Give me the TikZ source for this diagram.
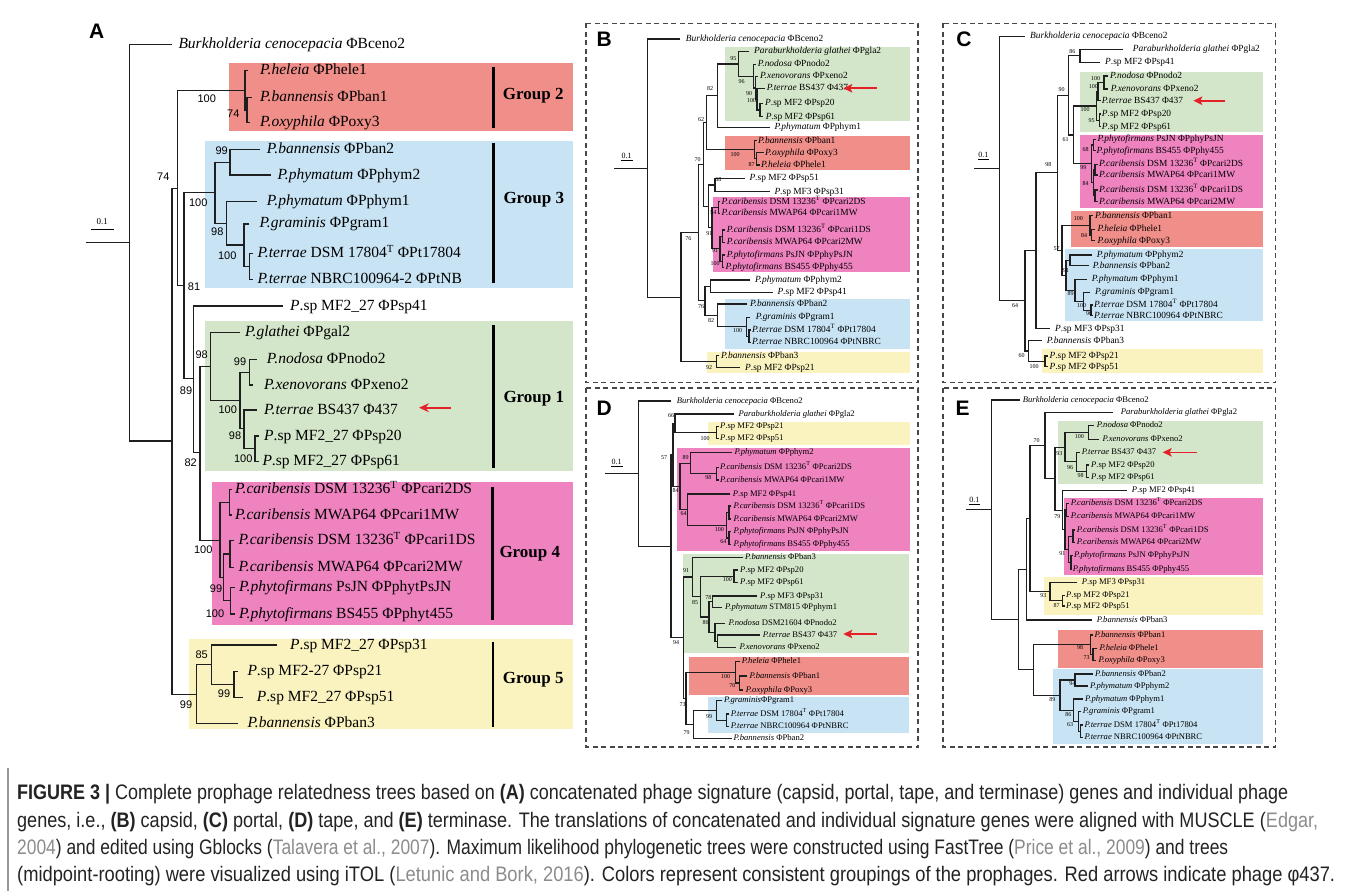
\documentclass[tikz,border=0pt]{standalone}
\usepackage{fontspec}
\setmainfont{Liberation Serif}
\setsansfont{Liberation Sans}
\usetikzlibrary{arrows.meta}
\definecolor{cRed}{RGB}{240,142,137}
\definecolor{cBlue}{RGB}{200,228,244}
\definecolor{cGreen}{RGB}{212,230,201}
\definecolor{cPink}{RGB}{238,131,192}
\definecolor{cYel}{RGB}{250,243,192}
\definecolor{arrRed}{RGB}{228,32,40}
\definecolor{cLink}{RGB}{140,140,140}
\definecolor{capText}{RGB}{35,35,35}
\newcommand\tcl[5]{\draw[br] (#3,#2) -- (#1,#2) -- (#1,#4) -- (#5,#4);}
\newcommand\tlb[4]{\node[lbl] (#1) at (#2,#3) {#4};}
\newcommand\tbs[4]{\node[bs] (#1) at (#2,#3) {#4};}
\newcommand\Pa{\textit{P}.sp}
\tikzset{
  br/.style={draw=black!88, line width=1.1pt},
  lblA/.style={anchor=west, inner sep=0pt, text height=11pt, text depth=3pt, font=\fontsize{15.5}{15.5}\selectfont},
  lblB/.style={anchor=west, inner sep=0pt, text height=6.5pt, text depth=1.9pt, font=\fontsize{9.4}{9.4}\selectfont},
  lblD/.style={anchor=west, inner sep=0pt, text height=6pt, text depth=1.8pt, font=\fontsize{8.6}{8.6}\selectfont},
  bsA/.style={inner sep=0pt, font=\sffamily\fontsize{11}{11}\selectfont},
  bsB/.style={inner sep=0pt, font=\fontsize{6}{6}\selectfont},
  lbl/.style={lblB}, bs/.style={bsB},
  gbar/.style={draw=black, line width=2.4pt},
  glab/.style={anchor=west, inner sep=0pt, font=\bfseries\fontsize{17}{17}\selectfont},
  plet/.style={inner sep=0pt, font=\sffamily\bfseries\fontsize{21}{21}\selectfont},
  dbox/.style={draw=black!72, line width=1.3pt, dash pattern=on 5pt off 3.5pt},
  redarr/.style={draw=arrRed, line width=1.6pt, -{Stealth[length=9pt,width=8.5pt,inset=2pt]}},
  sclab/.style={inner sep=0pt, font=\fontsize{8}{8}\selectfont},
  capl/.style={anchor=base west, inner sep=0pt, text=capText, font=\sffamily\fontsize{21}{21}\selectfont},
}
\begin{document}
\begin{tikzpicture}[x=1pt,y=-1pt]
\useasboundingbox (0,0) rectangle (1358,891);
\fill[white] (0,0) rectangle (1358,891);

%================ PANEL A =================
\fill[cRed] (229,63.3) rectangle (573,130.7);
\fill[cBlue] (205.3,141) rectangle (573,287.7);
\fill[cGreen] (205.3,321) rectangle (573,470.7);
\fill[cPink] (211.7,482.3) rectangle (573,625);
\fill[cYel] (188.7,639) rectangle (573,729.3);
\node[plet] (aLet) at (96.7,31.7) {A};
\node[sclab, font=\fontsize{9}{9}\selectfont] (aSc) at (102.3,222) {0.1};
\draw[line width=1pt] (90.7,229) -- (114,229);
\begin{scope}[lbl/.style={lblA}, bs/.style={bsA}]
\draw[br] (86,242.7) -- (129.3,242.7);
\tcl{129.3}{44.3}{171.7}{441}{172}
\tcl{172}{188.3}{177.3}{694.2}{196.7}
\tcl{177.3}{90.3}{245}{285.5}{184}
\tcl{245}{70.7}{248}{110}{247}
\tcl{247}{97.3}{252}{122.7}{250}
\tcl{184}{192.7}{215}{378.4}{193.3}
\tcl{215}{162.2}{230}{223.3}{226.7}
\tcl{230}{149.3}{260}{175}{270.7}
\tcl{226.7}{201.7}{256.7}{245}{244}
\tcl{244}{224}{249.3}{266.3}{249.3}
\tcl{249.3}{253.3}{252.5}{279.3}{252.5}
\tcl{193.3}{306}{282.7}{452.8}{200}
\tcl{200}{366.2}{210.7}{540.6}{220}
\tcl{210.7}{332.3}{240}{400.1}{240}
\tcl{240}{372.2}{249.3}{428.4}{244}
\tcl{249.3}{359.3}{256.7}{385}{253}
\tcl{244}{410}{256.7}{448.9}{255}
\tcl{255}{436}{258.5}{461.7}{258.5}
\tcl{220}{502.2}{229.3}{577.5}{223.3}
\tcl{229.3}{489.3}{232}{515}{232}
\tcl{223.3}{554}{230}{600.9}{230.5}
\tcl{230}{540.7}{234}{567.3}{234}
\tcl{230.5}{587.7}{235}{614}{235}
\tcl{196.7}{664.8}{211.7}{723.3}{238.3}
\tcl{211.7}{645}{277.3}{684.5}{234}
\tcl{234}{671.7}{238.3}{697.3}{242.7}
\tlb{aBurk}{178.3}{44.3}{\textit{Burkholderia cenocepacia} ΦBceno2}
\tlb{aHel}{260}{70.7}{\textit{P.heleia} ΦPhele1}
\tlb{aBan1}{260}{97.3}{\textit{P.bannensis} ΦPban1}
\tlb{aOxy}{260}{122.7}{\textit{P.oxyphila} ΦPoxy3}
\tlb{aBan2}{266.7}{149.3}{\textit{P.bannensis} ΦPban2}
\tlb{aPhym2}{277.3}{175}{\textit{P.phymatum} ΦPphym2}
\tlb{aPhym1}{266.7}{201.7}{\textit{P.phymatum} ΦPphym1}
\tlb{aGram}{259.3}{223}{\textit{P.graminis} ΦPgram1}
\tlb{aPt}{257.3}{253.3}{\textit{P.terrae} DSM 17804\textsuperscript{T} ΦPt17804}
\tlb{aPtNB}{257.3}{279.3}{\textit{P.terrae} NBRC100964-2 ΦPtNB}
\tlb{aPsp41}{290}{306}{\Pa{} MF2\_27 ΦPsp41}
\tlb{aGla}{245}{332.3}{\textit{P.glathei} ΦPgal2}
\tlb{aNod}{266.7}{359.3}{\textit{P.nodosa} ΦPnodo2}
\tlb{aXen}{264}{385}{\textit{P.xenovorans} ΦPxeno2}
\tlb{aTer}{264}{410}{\textit{P.terrae} BS437 Φ437}
\tlb{aPsp20}{264}{436}{\Pa{} MF2\_27 ΦPsp20}
\tlb{aPsp61}{262.3}{461.7}{\Pa{} MF2\_27 ΦPsp61}
\tlb{aC2DS}{235}{489.3}{\textit{P.caribensis} DSM 13236\textsuperscript{T} ΦPcari2DS}
\tlb{aC1MW}{235}{515}{\textit{P.caribensis} MWAP64 ΦPcari1MW}
\tlb{aC1DS}{238.3}{540.7}{\textit{P.caribensis} DSM 13236\textsuperscript{T} ΦPcari1DS}
\tlb{aC2MW}{238.3}{567.3}{\textit{P.caribensis} MWAP64 ΦPcari2MW}
\tlb{aPsJN}{239}{587.7}{\textit{P.phytofirmans} PsJN ΦPphytPsJN}
\tlb{aP455}{239}{614}{\textit{P.phytofirmans} BS455 ΦPphyt455}
\tlb{aPsp31}{290}{645}{\Pa{} MF2\_27 ΦPsp31}
\tlb{aPsp21}{247.3}{671.7}{\Pa{} MF2-27 ΦPsp21}
\tlb{aPsp51}{256.7}{697.3}{\Pa{} MF2\_27 ΦPsp51}
\tlb{aBan3}{247.3}{723.3}{\textit{P.bannensis} ΦPban3}
\tbs{ab1}{206.7}{98.3}{100}
\tbs{ab2}{233.3}{114}{74}
\tbs{ab3}{163.3}{176.7}{74}
\tbs{ab4}{221.7}{150.7}{99}
\tbs{ab5}{198.3}{202.7}{100}
\tbs{ab6}{217.3}{232}{98}
\tbs{ab7}{227.3}{256}{100}
\tbs{ab8}{194}{286.7}{81}
\tbs{ab9}{201.7}{355}{98}
\tbs{ab10}{186}{391}{89}
\tbs{ab11}{240}{361.7}{99}
\tbs{ab12}{227.7}{410}{100}
\tbs{ab13}{235}{436}{98}
\tbs{ab14}{243.3}{458.3}{100}
\tbs{ab15}{190.7}{462.7}{82}
\tbs{ab16}{203.3}{550}{100}
\tbs{ab17}{216}{588.3}{99}
\tbs{ab18}{215}{614}{100}
\tbs{ab19}{201.7}{654.3}{85}
\tbs{ab20}{224}{693.3}{99}
\tbs{ab21}{186}{705}{99}
\end{scope}
\draw[gbar] (493.3,66.7) -- (493.3,128.3);
\draw[gbar] (493.3,143.3) -- (493.3,283.3);
\draw[gbar] (493.3,325) -- (493.3,468.3);
\draw[gbar] (492.3,486.7) -- (492.3,620);
\draw[gbar] (492.7,641.7) -- (492.7,726.7);
\node[glab] (aG2) at (502.7,96) {Group 2};
\node[glab] (aG3) at (503.3,200) {Group 3};
\node[glab] (aG1) at (503.3,398.3) {Group 1};
\node[glab] (aG4) at (499.3,554) {Group 4};
\node[glab] (aG5) at (502.7,679.3) {Group 5};
\coordinate (aArS) at (451,407.7); \coordinate (aArE) at (419,407.7);
\draw[redarr, line width=1.8pt, -{Stealth[length=10pt,width=9pt,inset=3.5pt]}] (aArS) -- (aArE);

%================ PANEL B =================
\draw[dbox] (586,23.5) rectangle (918,382.5);
\fill[cGreen] (725,46.7) rectangle (910,120.7);
\fill[cRed] (725,136) rectangle (910,170);
\fill[cPink] (713.3,196.7) rectangle (910,271.7);
\fill[cBlue] (725,299.3) rectangle (910,349.3);
\fill[cYel] (706.7,351.7) rectangle (910,373.3);
\node[plet] (bLet) at (604.3,39.3) {B};
\node[sclab] (bSc) at (626.7,156) {0.1};
\draw[line width=0.8pt] (621,160.5) -- (632.5,160.5);
\draw[br] (614.3,168.1) -- (647.7,168.1);
\tcl{647.7}{39}{680}{297.2}{681}
\tcl{681}{232.7}{698.3}{361.7}{716.7}
\tcl{716.7}{355.7}{719}{367.7}{740}
\tcl{698.3}{164.6}{703.3}{300.8}{705}
\tcl{703.3}{122.8}{706.7}{206.4}{708.3}
\tcl{706.7}{95.7}{717.7}{149.8}{754.3}
\tcl{717.7}{64}{738.3}{127.3}{770}
\tcl{738.3}{51.7}{749}{76.2}{753.3}
\tcl{753.3}{64.3}{756}{88}{755.5}
\tcl{755.5}{76.7}{758}{99.3}{757}
\tcl{757}{88.7}{765}{110}{760}
\tcl{760}{103.3}{763}{116.7}{763}
\tcl{754.3}{140.7}{756.5}{158.9}{756.7}
\tcl{756.7}{152.7}{763.5}{165}{759.5}
\tcl{708.3}{185}{715}{227.9}{712}
\tcl{715}{178.3}{745}{191.7}{770}
\tcl{712}{207.5}{718.7}{248.7}{720}
\tcl{718.7}{201.7}{720.3}{213.3}{720.3}
\tcl{720}{236.2}{722.5}{261.2}{722.5}
\tcl{722.5}{230}{725}{242.3}{725}
\tcl{722.5}{255}{725}{267.3}{724}
\tcl{705}{286.2}{710.7}{315.4}{717.7}
\tcl{710.7}{280}{750}{292.3}{773.3}
\tcl{717.7}{304}{746.7}{326.7}{746.7}
\tcl{746.7}{317.3}{750}{336.2}{749}
\tcl{749}{330}{750.7}{342.3}{750.7}
\tlb{bBurk}{685.7}{39}{\textit{Burkholderia cenocepacia} ΦBceno2}
\tlb{bGla}{754}{51.7}{\textit{Paraburkholderia glathei} ΦPgla2}
\tlb{bNod}{757.7}{64.3}{\textit{P.nodosa} ΦPnodo2}
\tlb{bXen}{760}{76.7}{\textit{P.xenovorans} ΦPxeno2}
\tlb{bTer}{766.7}{88.7}{\textit{P.terrae} BS437 Φ437}
\tlb{bPsp20}{765}{103.3}{\Pa{} MF2 ΦPsp20}
\tlb{bPsp61}{765.7}{116.7}{\Pa{} MF2 ΦPsp61}
\tlb{bPhym1}{774.3}{127.3}{\textit{P.phymatum} ΦPphym1}
\tlb{bBan1}{758}{140.7}{\textit{P.bannensis} ΦPban1}
\tlb{bOxy}{765}{152.7}{\textit{P.oxyphila} ΦPoxy3}
\tlb{bHel}{761}{165}{\textit{P.heleia} ΦPhele1}
\tlb{bPsp51}{749.3}{178.3}{\Pa{} MF2 ΦPsp51}
\tlb{bPsp31}{774.3}{191.7}{\Pa{} MF3 ΦPsp31}
\tlb{bC2DS}{721.5}{201.7}{\textit{P.caribensis} DSM 13236\textsuperscript{T} ΦPcari2DS}
\tlb{bC1MW}{721.5}{213.3}{\textit{P.caribensis} MWAP64 ΦPcari1MW}
\tlb{bC1DS}{726.7}{230}{\textit{P.caribensis} DSM 13236\textsuperscript{T} ΦPcari1DS}
\tlb{bC2MW}{726.7}{242.3}{\textit{P.caribensis} MWAP64 ΦPcari2MW}
\tlb{bPsJN}{726.7}{255}{\textit{P.phytofirmans} PsJN ΦPphyPsJN}
\tlb{bP455}{725.5}{267.3}{\textit{P.phytofirmans} BS455 ΦPphy455}
\tlb{bPhym2}{755}{280}{\textit{P.phymatum} ΦPphym2}
\tlb{bPsp41}{777.3}{292.3}{\Pa{} MF2 ΦPsp41}
\tlb{bBan2}{750}{304}{\textit{P.bannensis} ΦPban2}
\tlb{bGram}{755.7}{317.3}{\textit{P.graminis} ΦPgram1}
\tlb{bPt}{752}{330}{\textit{P.terrae} DSM 17804\textsuperscript{T} ΦPt17804}
\tlb{bPtN}{752}{342.3}{\textit{P.terrae} NBRC100964 ΦPtNBRC}
\tlb{bBan3}{721}{355.7}{\textit{P.bannensis} ΦPban3}
\tlb{bPsp21}{745}{367.7}{\Pa{} MF2 ΦPsp21}
\tbs{bb1}{733.3}{58.3}{95}
\tbs{bb2}{741.7}{81.7}{96}
\tbs{bb3}{749}{93.3}{90}
\tbs{bb4}{751.7}{100.7}{100}
\tbs{bb5}{710}{88.3}{82}
\tbs{bb6}{701}{119.3}{62}
\tbs{bb7}{735}{155}{100}
\tbs{bb8}{751.7}{165}{87}
\tbs{bb9}{697.7}{159.3}{70}
\tbs{bb10}{718.3}{179.3}{68}
\tbs{bb11}{713.3}{212.7}{54}
\tbs{bb12}{688.3}{238.3}{76}
\tbs{bb13}{709.3}{233.3}{91}
\tbs{bb14}{715}{250.7}{91}
\tbs{bb15}{715}{263.3}{100}
\tbs{bb16}{701}{306.7}{76}
\tbs{bb17}{711}{320.7}{82}
\tbs{bb18}{737.7}{330.7}{100}
\tbs{bb19}{709}{367.3}{92}
\coordinate (bArS) at (876.7,88.3); \coordinate (bArE) at (843.3,88.3);
\draw[redarr] (bArS) -- (bArE);

%================ PANEL C =================
\draw[dbox] (943,23.5) rectangle (1275.5,382.5);
\fill[cGreen] (1080,72.3) rectangle (1263.3,132.3);
\fill[cPink] (1080,135) rectangle (1263.3,208.3);
\fill[cRed] (1071,211) rectangle (1263.3,246.7);
\fill[cBlue] (1065,249.3) rectangle (1263.3,321);
\fill[cYel] (1041.7,349.3) rectangle (1263.3,373.3);
\node[plet] (cLet) at (964,39.3) {C};
\node[sclab] (cSc) at (983.3,155) {0.1};
\draw[line width=0.8pt] (978,159.5) -- (989,159.5);
\draw[br] (974.3,168.8) -- (999.3,168.8);
\tcl{999.3}{36.7}{1025}{300.9}{1025}
\tcl{1025}{250.8}{1036}{351}{1028.3}
\tcl{1028.3}{340.7}{1041.7}{361.3}{1045}
\tcl{1045}{356}{1048}{366.7}{1048}
\tcl{1036}{172.9}{1057.3}{328.7}{1050}
\tcl{1057.3}{95.4}{1068.3}{250.3}{1062}
\tcl{1068.3}{55.8}{1080}{135}{1073.3}
\tcl{1080}{49.3}{1123.3}{62.3}{1100}
\tcl{1073.3}{106}{1096.7}{163.9}{1091.7}
\tcl{1096.7}{91.6}{1098}{120.35}{1099.5}
\tcl{1098}{82.5}{1104}{100.7}{1100.5}
\tcl{1104}{76}{1108}{89}{1108}
\tcl{1099.5}{114}{1100.8}{126.7}{1100.8}
\tcl{1091.7}{145}{1093.3}{182.8}{1093.3}
\tcl{1093.3}{139.3}{1096}{150.7}{1095.5}
\tcl{1093.3}{169.7}{1095}{195.9}{1095}
\tcl{1095}{164.3}{1097.5}{175}{1097.5}
\tcl{1095}{190}{1097.5}{201.7}{1097.5}
\tcl{1062}{225.3}{1090}{275.3}{1066}
\tcl{1090}{215.7}{1093}{235}{1091.7}
\tcl{1091.7}{229.3}{1095}{240.7}{1095}
\tcl{1066}{260.3}{1070}{290.3}{1075}
\tcl{1070}{255}{1092}{265.7}{1089}
\tcl{1075}{279.3}{1086.7}{301.3}{1083.3}
\tcl{1083.3}{292.3}{1090}{310.35}{1091}
\tcl{1091}{305}{1093}{315.7}{1093}
\tlb{cBurk}{1030}{36.7}{\textit{Burkholderia cenocepacia} ΦBceno2}
\tlb{cGla}{1132.7}{49.3}{\textit{Paraburkholderia glathei} ΦPgla2}
\tlb{cPsp41}{1105}{62.3}{\Pa{} MF2 ΦPsp41}
\tlb{cNod}{1110}{76}{\textit{P.nodosa} ΦPnodo2}
\tlb{cXen}{1110.7}{89}{\textit{P.xenovorans} ΦPxeno2}
\tlb{cTer}{1101.7}{100.7}{\textit{P.terrae} BS437 Φ437}
\tlb{cPsp20}{1101.7}{114}{\Pa{} MF2 ΦPsp20}
\tlb{cPsp61}{1101.7}{126.7}{\Pa{} MF2 ΦPsp61}
\tlb{cPsJN}{1097.3}{139.3}{\textit{P.phytofirmans} PsJN ΦPphyPsJN}
\tlb{cP455}{1096.5}{150.7}{\textit{P.phytofirmans} BS455 ΦPphy455}
\tlb{cC2DS}{1099}{164.3}{\textit{P.caribensis} DSM 13236\textsuperscript{T} ΦPcari2DS}
\tlb{cC1MW}{1099}{175}{\textit{P.caribensis} MWAP64 ΦPcari1MW}
\tlb{cC1DS}{1099}{190}{\textit{P.caribensis} DSM 13236\textsuperscript{T} ΦPcari1DS}
\tlb{cC2MW}{1099}{201.7}{\textit{P.caribensis} MWAP64 ΦPcari2MW}
\tlb{cBan1}{1095}{215.7}{\textit{P.bannensis} ΦPban1}
\tlb{cHel}{1097.3}{229.3}{\textit{P.heleia} ΦPhele1}
\tlb{cOxy}{1097.3}{240.7}{\textit{P.oxyphila} ΦPoxy3}
\tlb{cPhym2}{1096.7}{255}{\textit{P.phymatum} ΦPphym2}
\tlb{cBan2}{1092.7}{265.7}{\textit{P.bannensis} ΦPban2}
\tlb{cPhym1}{1091.7}{279.3}{\textit{P.phymatum} ΦPphym1}
\tlb{cGram}{1095}{292.3}{\textit{P.graminis} ΦPgram1}
\tlb{cPt}{1094}{305}{\textit{P.terrae} DSM 17804\textsuperscript{T} ΦPt17804}
\tlb{cPtN}{1094}{315.7}{\textit{P.terrae} NBRC100964 ΦPtNBRC}
\tlb{cPsp31}{1055}{328.7}{\Pa{} MF3 ΦPsp31}
\tlb{cBan3}{1046.7}{340.7}{\textit{P.bannensis} ΦPban3}
\tlb{cPsp21}{1049.3}{356}{\Pa{} MF2 ΦPsp21}
\tlb{cPsp51}{1049.3}{366.7}{\Pa{} MF2 ΦPsp51}
\tbs{cb1}{1072.3}{51.7}{86}
\tbs{cb2}{1061.7}{89.3}{90}
\tbs{cb3}{1095.7}{78.3}{100}
\tbs{cb4}{1093.3}{86.7}{100}
\tbs{cb5}{1085}{110}{100}
\tbs{cb6}{1091.7}{120.7}{95}
\tbs{cb7}{1065.7}{140}{61}
\tbs{cb8}{1085.7}{150}{68}
\tbs{cb9}{1083.3}{167.7}{99}
\tbs{cb10}{1085.7}{184}{84}
\tbs{cb11}{1048.3}{164.3}{98}
\tbs{cb12}{1078.3}{219}{100}
\tbs{cb13}{1084}{235.7}{84}
\tbs{cb14}{1056.7}{248.3}{57}
\tbs{cb15}{1066}{270.7}{91}
\tbs{cb16}{1070.7}{294}{89}
\tbs{cb17}{1081.7}{305.7}{100}
\tbs{cb18}{1089}{314}{96}
\tbs{cb19}{1015}{305.7}{64}
\tbs{cb20}{1021.7}{356}{60}
\tbs{cb21}{1034}{366.7}{100}
\coordinate (cArS) at (1225,100.7); \coordinate (cArE) at (1193.3,100.7);
\draw[redarr] (cArS) -- (cArE);

\begin{scope}[lbl/.style={lblD}]
%================ PANEL D =================
\draw[dbox] (586,388) rectangle (918,747);
\fill[cYel] (708.3,421.7) rectangle (910,445);
\fill[cPink] (676.7,448.3) rectangle (910,550.7);
\fill[cGreen] (682.7,554) rectangle (909.3,652.7);
\fill[cRed] (689.3,657.3) rectangle (909.3,695);
\fill[cBlue] (708.3,697.3) rectangle (909.3,733.3);
\node[plet] (dLet) at (604.3,408.3) {D};
\node[sclab] (dSc) at (616.7,461.5) {0.1};
\draw[line width=0.8pt] (611,466) -- (623,466);
\draw[br] (605,473.65) -- (638.3,473.65);
\tcl{638.3}{401}{671}{546.3}{671}
\tcl{671}{454.9}{673}{637.7}{683.3}
\tcl{673}{423.3}{675}{486.4}{680}
\tcl{675}{414}{734.3}{432.5}{716.7}
\tcl{716.7}{426.7}{718.5}{438.3}{718.5}
\tcl{680}{463.2}{690.7}{509.6}{687.7}
\tcl{690.7}{452.7}{731.7}{473.7}{716.7}
\tcl{716.7}{467.3}{718.5}{480}{718.5}
\tcl{687.7}{494}{730}{525.25}{726.7}
\tcl{726.7}{512.5}{729}{538}{729}
\tcl{729}{506}{731.3}{519}{731.3}
\tcl{729}{531.7}{731.3}{544.3}{731.3}
\tcl{683.3}{577}{692.7}{698.5}{686}
\tcl{692.7}{557.3}{743.3}{596.7}{700.7}
\tcl{700.7}{576.35}{734}{617}{709}
\tcl{734}{570}{737.5}{582.7}{737.5}
\tcl{709}{601.85}{712.7}{632.2}{715}
\tcl{712.7}{596}{757.3}{607.7}{721.7}
\tcl{715}{623.3}{725}{641.15}{717.3}
\tcl{717.3}{635}{760}{647.3}{735.7}
\tcl{686}{672.35}{735.7}{724.6}{693.3}
\tcl{735.7}{661.7}{740}{683}{739.3}
\tcl{739.3}{676}{747}{690}{743}
\tcl{693.3}{710.5}{716.7}{738.7}{731.7}
\tcl{716.7}{700.7}{722}{720.35}{726.7}
\tcl{726.7}{714}{729}{726.7}{729}
\tlb{dBurk}{676.7}{401}{\textit{Burkholderia cenocepacia} ΦBceno2}
\tlb{dGla}{738.3}{414}{\textit{Paraburkholderia glathei} ΦPgla2}
\tlb{dPsp21}{720}{426.7}{\Pa{} MF2 ΦPsp21}
\tlb{dPsp51}{720}{438.3}{\Pa{} MF2 ΦPsp51}
\tlb{dPhym2}{734.3}{452.7}{\textit{P.phymatum} ΦPphym2}
\tlb{dC2DS}{720}{467.3}{\textit{P.caribensis} DSM 13236\textsuperscript{T} ΦPcari2DS}
\tlb{dC1MW}{720}{480}{\textit{P.caribensis} MWAP64 ΦPcari1MW}
\tlb{dPsp41}{732.7}{494}{\Pa{} MF2 ΦPsp41}
\tlb{dC1DS}{733.3}{506}{\textit{P.caribensis} DSM 13236\textsuperscript{T} ΦPcari1DS}
\tlb{dC2MW}{733.3}{519}{\textit{P.caribensis} MWAP64 ΦPcari2MW}
\tlb{dPsJN}{733.3}{531.7}{\textit{P.phytofirmans} PsJN ΦPphyPsJN}
\tlb{dP455}{733.3}{544.3}{\textit{P.phytofirmans} BS455 ΦPphy455}
\tlb{dBan3}{745}{557.3}{\textit{P.bannensis} ΦPban3}
\tlb{dPsp20}{740}{570}{\Pa{} MF2 ΦPsp20}
\tlb{dPsp61}{740}{582.7}{\Pa{} MF2 ΦPsp61}
\tlb{dPsp31}{760}{596}{\Pa{} MF3 ΦPsp31}
\tlb{dPhym1}{725}{607.7}{\textit{P.phymatum} STM815 ΦPphym1}
\tlb{dNod}{728.3}{623.3}{\textit{P.nodosa} DSM21604 ΦPnodo2}
\tlb{dTer}{762.7}{635}{\textit{P.terrae} BS437 Φ437}
\tlb{dXen}{739.3}{647.3}{\textit{P.xenovorans} ΦPxeno2}
\tlb{dHel}{741.7}{661.7}{\textit{P.heleia} ΦPhele1}
\tlb{dBan1}{749.3}{676}{\textit{P.bannensis} ΦPban1}
\tlb{dOxy}{745.7}{690}{\textit{P.oxyphila} ΦPoxy3}
\tlb{dGram}{724}{700.7}{\textit{P.graminis}ΦPgram1}
\tlb{dPt}{730.7}{714}{\textit{P.terrae} DSM 17804\textsuperscript{T} ΦPt17804}
\tlb{dPtN}{730.7}{726.7}{\textit{P.terrae} NBRC100964 ΦPtNBRC}
\tlb{dBan2}{733.3}{738.7}{\textit{P.bannensis} ΦPban2}
\tbs{db1}{671}{416}{66}
\tbs{db2}{705}{438.3}{100}
\tbs{db3}{664}{457.7}{57}
\tbs{db4}{685.7}{457.7}{89}
\tbs{db5}{708.3}{477.3}{98}
\tbs{db6}{675.7}{490.7}{84}
\tbs{db7}{683.7}{513.3}{64}
\tbs{db8}{719.3}{529.3}{100}
\tbs{db9}{723.3}{541.7}{64}
\tbs{db10}{686}{570.7}{91}
\tbs{db11}{727.3}{580}{100}
\tbs{db12}{695}{602.7}{85}
\tbs{db13}{708.3}{597.3}{78}
\tbs{db14}{705.7}{622.7}{86}
\tbs{db15}{676}{642.7}{94}
\tbs{db16}{725.7}{676.7}{100}
\tbs{db17}{732.3}{686}{70}
\tbs{db18}{682.7}{705}{73}
\tbs{db19}{709}{716.7}{99}
\tbs{db20}{686.7}{732.7}{79}
\coordinate (dArS) at (876.7,634); \coordinate (dArE) at (843.3,634);
\draw[redarr] (dArS) -- (dArE);

%================ PANEL E =================
\draw[dbox] (943,388) rectangle (1275.5,747);
\fill[cGreen] (1058.3,420.7) rectangle (1263.3,484);
\fill[cPink] (1064,498.3) rectangle (1263.3,575);
\fill[cYel] (1044,577.3) rectangle (1263.3,615);
\fill[cRed] (1058.3,630) rectangle (1263.3,668.3);
\fill[cBlue] (1053.3,669.3) rectangle (1263.3,744);
\node[plet] (eLet) at (962.7,408.3) {E};
\node[sclab] (eSc) at (974.3,499.5) {0.1};
\draw[line width=0.8pt] (969,504) -- (980,504);
\draw[br] (966,509.8) -- (991.7,509.8);
\tcl{991.7}{400}{1020}{619.6}{1018.3}
\tcl{1018.3}{569.3}{1026.7}{669.9}{1033.3}
\tcl{1026.7}{518.6}{1030}{620}{1091.7}
\tcl{1030}{445.65}{1045}{591.6}{1050}
\tcl{1045}{412.7}{1113.3}{478.6}{1055}
\tcl{1055}{447.1}{1065}{510.15}{1062.7}
\tcl{1065}{432.5}{1088.3}{461.7}{1076.7}
\tcl{1088.3}{425.7}{1094}{439.3}{1099}
\tcl{1076.7}{452.3}{1080}{471.15}{1086.7}
\tcl{1086.7}{465}{1089}{477.3}{1089}
\tcl{1062.7}{490.7}{1126.7}{529.6}{1065}
\tcl{1065}{510}{1066.7}{549.25}{1068.3}
\tcl{1066.7}{503.3}{1069}{516.7}{1069}
\tcl{1068.3}{536.15}{1073}{562.35}{1071}
\tcl{1073}{530}{1075}{542.3}{1075}
\tcl{1071}{555.7}{1072.8}{569}{1071.8}
\tcl{1050}{582.3}{1077.3}{600.85}{1062.7}
\tcl{1062.7}{595.7}{1064.5}{606}{1064.5}
\tcl{1033.3}{644.75}{1090.7}{695.1}{1060}
\tcl{1090.7}{635}{1092.5}{654.5}{1093}
\tcl{1093}{648.3}{1097}{660.7}{1096}
\tcl{1060}{680}{1075}{710.2}{1073.3}
\tcl{1075}{674}{1093.3}{686}{1088.3}
\tcl{1073.3}{699}{1083.3}{721.4}{1078.3}
\tcl{1078.3}{711.7}{1081}{731.15}{1080.7}
\tcl{1080.7}{725}{1082.5}{737.3}{1082.5}
\tlb{eBurk}{1022.7}{400}{\textit{Burkholderia cenocepacia} ΦBceno2}
\tlb{eGla}{1120.7}{412.7}{\textit{Paraburkholderia glathei} ΦPgla2}
\tlb{eNod}{1096.7}{425.7}{\textit{P.nodosa} ΦPnodo2}
\tlb{eXen}{1102.3}{439.3}{\textit{P.xenovorans} ΦPxeno2}
\tlb{eTer}{1081.7}{452.3}{\textit{P.terrae} BS437 Φ437}
\tlb{ePsp20}{1091}{465}{\Pa{} MF2 ΦPsp20}
\tlb{ePsp61}{1091}{477.3}{\Pa{} MF2 ΦPsp61}
\tlb{ePsp41}{1131.7}{490.7}{\Pa{} MF2 ΦPsp41}
\tlb{eC2DS}{1070.7}{503.3}{\textit{P.caribensis} DSM 13236\textsuperscript{T} ΦPcari2DS}
\tlb{eC1MW}{1070.7}{516.7}{\textit{P.caribensis} MWAP64 ΦPcari1MW}
\tlb{eC1DS}{1076.7}{530}{\textit{P.caribensis} DSM 13236\textsuperscript{T} ΦPcari1DS}
\tlb{eC2MW}{1076.7}{542.3}{\textit{P.caribensis} MWAP64 ΦPcari2MW}
\tlb{ePsJN}{1074}{555.7}{\textit{P.phytofirmans} PsJN ΦPphyPsJN}
\tlb{eP455}{1072.7}{569}{\textit{P.phytofirmans} BS455 ΦPphy455}
\tlb{ePsp31}{1081.7}{582.3}{\Pa{} MF3 ΦPsp31}
\tlb{ePsp21}{1066}{595.7}{\Pa{} MF2 ΦPsp21}
\tlb{ePsp51}{1066}{606}{\Pa{} MF2 ΦPsp51}
\tlb{eBan3}{1096.7}{620}{\textit{P.bannensis} ΦPban3}
\tlb{eBan1}{1094.5}{635}{\textit{P.bannensis} ΦPban1}
\tlb{eHel}{1099.3}{648.3}{\textit{P.heleia} ΦPhele1}
\tlb{eOxy}{1098.3}{660.7}{\textit{P.oxyphila} ΦPoxy3}
\tlb{eBan2}{1095}{674}{\textit{P.bannensis} ΦPban2}
\tlb{ePhym2}{1090}{686}{\textit{P.phymatum} ΦPphym2}
\tlb{ePhym1}{1085}{699}{\textit{P.phymatum} ΦPphym1}
\tlb{eGram}{1082.7}{711.7}{\textit{P.graminis} ΦPgram1}
\tlb{ePt}{1084.3}{725}{\textit{P.terrae} DSM 17804\textsuperscript{T} ΦPt17804}
\tlb{ePtN}{1084.3}{737.3}{\textit{P.terrae} NBRC100964 ΦPtNBRC}
\tbs{eb1}{1036.7}{440.7}{70}
\tbs{eb2}{1079.3}{436.7}{100}
\tbs{eb3}{1059.3}{453.3}{93}
\tbs{eb4}{1070}{467.3}{96}
\tbs{eb5}{1080.7}{476}{98}
\tbs{eb6}{1057.3}{516.7}{79}
\tbs{eb7}{1062.3}{553.3}{91}
\tbs{eb8}{1043.3}{596}{93}
\tbs{eb9}{1056.7}{606}{87}
\tbs{eb10}{1080}{647.7}{98}
\tbs{eb11}{1086.7}{657.7}{73}
\tbs{eb12}{1052.3}{699.3}{89}
\tbs{eb13}{1072.3}{683.3}{94}
\tbs{eb14}{1068.3}{715}{86}
\tbs{eb15}{1070}{725}{63}
\coordinate (eArS) at (1196.7,452.3); \coordinate (eArE) at (1162.7,452.3);
\draw[redarr] (eArS) -- (eArE);
\end{scope}

%================ CAPTION =================
\draw[black!40, line width=1.5pt] (8,768) -- (8,891);
\node[capl] (cap1) at (17,799) {\resizebox{1271pt}{\height}{\textbf{FIGURE 3 |} Complete prophage relatedness trees based on \textbf{(A)} concatenated phage signature (capsid, portal, tape, and terminase) genes and individual phage}};
\node[capl] (cap2) at (17,827) {\resizebox{1301pt}{\height}{genes, i.e., \textbf{(B)} capsid, \textbf{(C)} portal, \textbf{(D)} tape, and \textbf{(E)} terminase. The translations of concatenated and individual signature genes were aligned with MUSCLE ({\color{cLink}Edgar,}}};
\node[capl] (cap3) at (17,854) {\resizebox{1211pt}{\height}{{\color{cLink}2004}) and edited using Gblocks ({\color{cLink}Talavera et al., 2007}). Maximum likelihood phylogenetic trees were constructed using FastTree ({\color{cLink}Price et al., 2009}) and trees}};
\node[capl] (cap4) at (17,881) {\resizebox{1318pt}{\height}{(midpoint-rooting) were visualized using iTOL ({\color{cLink}Letunic and Bork, 2016}). Colors represent consistent groupings of the prophages. Red arrows indicate phage φ437.}};
\end{tikzpicture}
\end{document}
